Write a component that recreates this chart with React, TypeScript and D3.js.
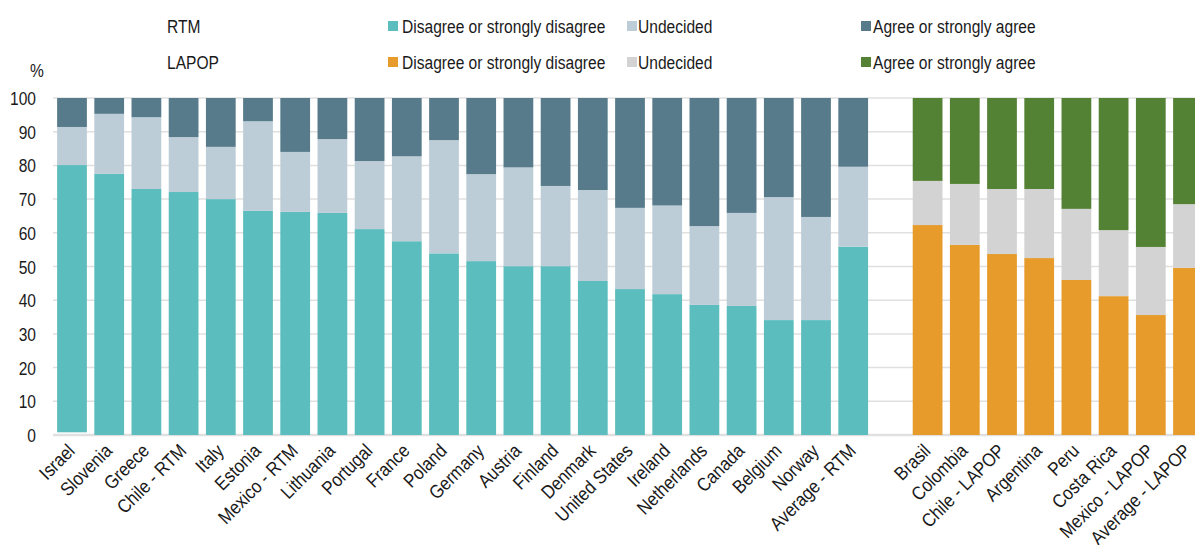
import * as d3 from 'd3'

// RTM survey
const rtmCountries = ['Israel', 'Slovenia', 'Greece', 'Chile - RTM', 'Italy', 'Estonia', 'Mexico - RTM', 'Lithuania', 'Portugal', 'France', 'Poland', 'Germany', 'Austria', 'Finland', 'Denmark', 'United States', 'Ireland', 'Netherlands', 'Canada', 'Belgium', 'Norway', 'Average - RTM']
const rtmMissing = [0.8, 0, 0, 0, 0, 0, 0, 0, 0, 0, 0, 0, 0, 0, 0, 0, 0, 0, 0, 0, 0, 0]
const rtmDisagree = [79.3, 77.5, 73.0, 72.1, 70.0, 66.5, 66.2, 65.9, 61.1, 57.5, 53.9, 51.6, 50.1, 50.1, 45.7, 43.3, 41.8, 38.6, 38.3, 34.1, 34.1, 55.9]
const rtmUndecided = [11.3, 17.8, 21.3, 16.3, 15.5, 26.6, 17.8, 21.9, 20.2, 25.2, 33.6, 25.8, 29.3, 23.8, 27.0, 24.1, 26.3, 23.4, 27.6, 36.5, 30.6, 23.7]
const rtmAgree = [8.6, 4.7, 5.7, 11.6, 14.5, 6.9, 16.0, 12.2, 18.7, 17.3, 12.5, 22.6, 20.6, 26.1, 27.3, 32.6, 31.9, 38.0, 34.1, 29.4, 35.3, 20.4]

// LAPOP survey
const lapopCountries = ['Brasil', 'Colombia', 'Chile - LAPOP', 'Argentina', 'Peru', 'Costa Rica', 'Mexico - LAPOP', 'Average - LAPOP']
const lapopDisagree = [62.3, 56.4, 53.7, 52.5, 46.0, 41.2, 35.6, 49.6]
const lapopUndecided = [13.1, 18.1, 19.3, 20.5, 21.1, 19.6, 20.2, 18.9]
const lapopAgree = [24.6, 25.5, 27.0, 27.0, 32.9, 39.2, 44.2, 31.5]

const yTicks = [0, 10, 20, 30, 40, 50, 60, 70, 80, 90, 100]
const seriesLabels = ['Disagree or strongly disagree', 'Undecided', 'Agree or strongly agree']
const rtmColors = ['#5BBDBE', '#BDCDD7', '#587B8B']
const lapopColors = ['#E79B2A', '#D3D3D3', '#548235']

const W = 1195
const H = 545
const FONT = '"Liberation Sans", Arial, sans-serif'
const GAP = '__gap'
const NARROW = 0.82
const INK = '#1a1a1a'

const keys = ['missing', 'disagree', 'undecided', 'agree']

// narrow text: regular sans squeezed horizontally around its anchor
const NText = ({ x, y, anchor = 'start', size = 19, sx = NARROW, rotate = 0, children }: any) => (
  <text
    transform={`translate(${x}, ${y}) rotate(${rotate}) scale(${sx}, 1)`}
    textAnchor={anchor}
    fontSize={size}
    fill={INK}
  >
    {children}
  </text>
)

export default function App() {
  const x = d3
    .scaleBand()
    .domain([...rtmCountries, GAP, ...lapopCountries])
    .range([53.4, 1206.6])
    .paddingInner(0.2)
    .paddingOuter(0.1)
  const y = d3.scaleLinear().domain([0, 100]).range([435, 98])

  const rtmRows = rtmCountries.map((c, i) => ({
    name: c,
    missing: rtmMissing[i],
    disagree: rtmDisagree[i],
    undecided: rtmUndecided[i],
    agree: rtmAgree[i],
  }))
  const lapopRows = lapopCountries.map((c, i) => ({
    name: c,
    missing: 0,
    disagree: lapopDisagree[i],
    undecided: lapopUndecided[i],
    agree: lapopAgree[i],
  }))
  const stack = d3.stack().keys(keys)
  const groups = [
    { series: stack(rtmRows as any), colors: rtmColors },
    { series: stack(lapopRows as any), colors: lapopColors },
  ]

  const legendRows = [
    { label: 'RTM', colors: rtmColors, y: 26 },
    { label: 'LAPOP', colors: lapopColors, y: 62 },
  ]
  const legendSquareX = [388, 627, 861]
  const legendTextX = [402, 638, 873]

  return (
    <svg
      width={W}
      height={H}
      style={{ position: 'absolute', left: 0, top: 0, background: '#fff', fontFamily: FONT }}
    >
      {/* gridlines */}
      {yTicks.map((t) => (
        <line
          key={t}
          x1={53}
          x2={W}
          y1={y(t)}
          y2={y(t)}
          stroke='#E0E0E0'
          strokeWidth={t === 0 ? 2.5 : 1.5}
        />
      ))}
      {yTicks.map((t) => (
        <NText key={t} x={36} y={y(t) + 7} anchor='end'>
          {t}
        </NText>
      ))}
      <NText x={37} y={77} anchor='middle'>
        %
      </NText>

      {/* bars */}
      {groups.map((g, gi) =>
        g.series.map((s, si) => (
          <g key={`${gi}-${si}`} fill={si === 0 ? 'none' : g.colors[si - 1]}>
            {s.map((d: any) => (
              <rect
                key={d.data.name}
                x={x(d.data.name)}
                y={y(d[1])}
                width={x.bandwidth()}
                height={Math.max(0, y(d[0]) - y(d[1]))}
              />
            ))}
          </g>
        ))
      )}

      {/* x labels */}
      {[...rtmCountries, ...lapopCountries].map((c) => {
        const cx = (x(c) ?? 0) + x.bandwidth() / 2
        return (
          <NText key={c} x={cx + 4} y={452} anchor='end' rotate={-45} sx={0.88}>
            {c}
          </NText>
        )
      })}

      {/* legend */}
      {legendRows.map((r) => (
        <g key={r.label}>
          <NText x={167} y={r.y + 7}>
            {r.label}
          </NText>
          {seriesLabels.map((l, i) => (
            <g key={l}>
              <rect x={legendSquareX[i]} y={r.y - 5} width={10} height={10} fill={r.colors[i]} />
              <NText x={legendTextX[i]} y={r.y + 7}>
                {l}
              </NText>
            </g>
          ))}
        </g>
      ))}
    </svg>
  )
}
